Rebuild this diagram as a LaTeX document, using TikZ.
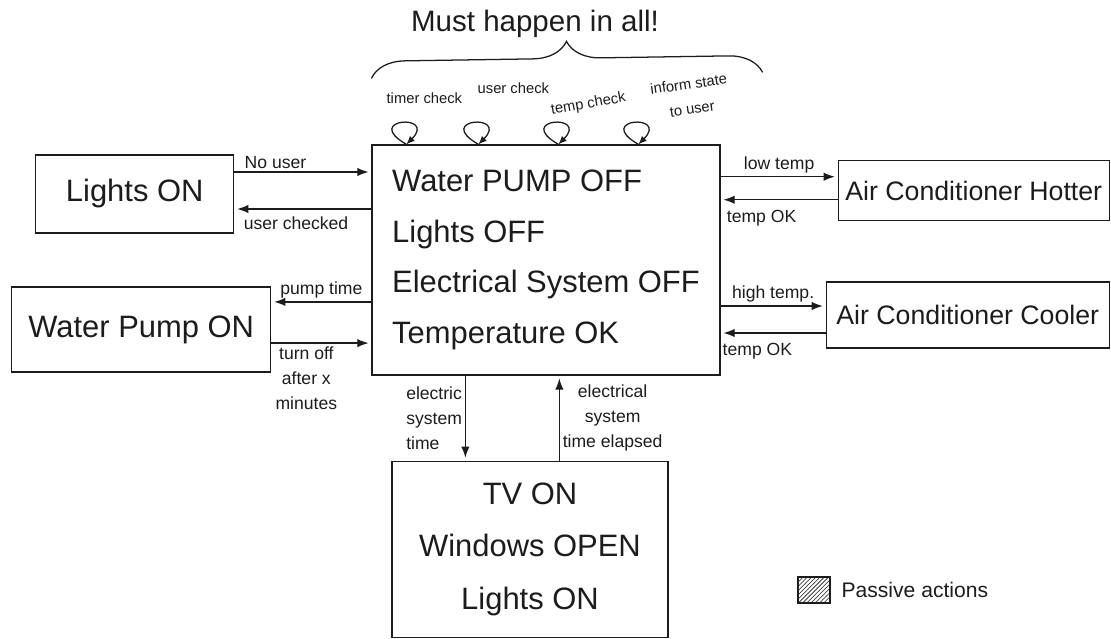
\documentclass[tikz,border=0pt]{standalone}
\usepackage{fontspec}
\setmainfont{Liberation Sans}
\definecolor{sketchInk}{HTML}{1C1C1C}
\usetikzlibrary{arrows.meta, positioning, decorations.pathreplacing, patterns}

\begin{document}
\begin{tikzpicture}[
    node distance=1cm and 1cm,
    state/.style={
      draw=sketchInk,
      text=sketchInk,
      line width=0.9pt,
      align=center,
      font=\fontsize{22}{36}\selectfont,
      inner sep=4pt,
    },
    acbox/.style={state, font=\fontsize{19}{23}\selectfont},
    arr/.style={-{Latex[length=8pt, width=6pt]}, sketchInk, line width=0.9pt, shorten >=2pt},
    selfarr/.style={-{Latex[length=6pt, width=5pt]}, sketchInk, line width=0.9pt},
    lbl/.style={font=\fontsize{12.5}{18}\selectfont, text=sketchInk, align=center, inner sep=2pt},
    chk/.style={lbl, font=\fontsize{10.5}{15}\selectfont},
  ]
    \useasboundingbox (0,0) rectangle (27.775,15.95);

    % idle state
    \node[state, align=left, minimum width=8.7cm, minimum height=5.75cm] (main) at (13.65,9.45)
      {Water PUMP OFF\\Lights OFF\\Electrical System OFF\\Temperature OK};

    % lights
    \node[state, minimum width=4.95cm, minimum height=1.95cm,
          below left=0.25cm and 3.425cm of main.north west] (lights) {Lights ON};

    % water pump
    \node[state, minimum width=6.475cm, minimum height=2.125cm,
          above left=0.075cm and 2.5cm of main.south west] (pump) {Water Pump ON};

    % air conditioner
    \node[acbox, minimum width=7.075cm, minimum height=1.65cm,
          above right=0.675cm and 2.625cm of main.south east] (cooler) {Air Conditioner Cooler};
    \node[acbox, minimum width=6.775cm, minimum height=1.5cm,
          above right=1.5cm and 0.3cm of cooler.north west] (hotter) {Air Conditioner Hotter};

    % electrical system
    \node[state, minimum width=6.9cm, minimum height=4.4cm, font=\fontsize{22}{37.5}\selectfont,
          below right=2.125cm and 0.5cm of main.south west] (tv) {TV ON\\Windows OPEN\\Lights ON};

    % arrows left
    \coordinate (nu) at ([yshift=0.55cm]lights.east);
    \coordinate (uc) at ([yshift=-0.375cm]lights.east);
    \draw[arr] (nu) -- (nu -| main.west) node[lbl, pos=0.3, above] (nulbl) {No user};
    \draw[arr] (uc -| main.west) -- (uc) node[lbl, pos=0.55, below=3pt] (uclbl) {user checked};

    \coordinate (pt) at ([yshift=0.69cm]pump.east);
    \coordinate (to) at ([yshift=-0.34cm]pump.east);
    \draw[arr] (pt -| main.west) -- (pt) node[lbl, midway, above] (ptlbl) {pump time};
    \draw[arr] (to) -- (to -| main.west) node[lbl, pos=0.35, below] (tolbl) {turn off\\after x\\minutes};

    % arrows right
    \coordinate (lt) at ([yshift=0.35cm]hotter.west);
    \coordinate (ok1) at ([yshift=-0.225cm]hotter.west);
    \draw[arr] (lt -| main.east) -- (lt) node[lbl, midway, above] (ltlbl) {low temp};
    \draw[arr] (ok1) -- (ok1 -| main.east) node[lbl, pos=0.65, below=5pt] (ok1lbl) {temp OK};

    \coordinate (ht) at ([yshift=0.225cm]cooler.west);
    \coordinate (ok2) at ([yshift=-0.45cm]cooler.west);
    \draw[arr] (ht -| main.east) -- (ht) node[lbl, midway, above] (htlbl) {high temp.};
    \draw[arr] (ok2) -- (ok2 -| main.east) node[lbl, pos=0.65, below=5pt] (ok2lbl) {temp OK};

    % arrows down
    \coordinate (es) at ([xshift=2.35cm]main.south west);
    \coordinate (el) at ([xshift=4.7cm]main.south west);
    \draw[arr] (es) -- (es |- tv.north) node[lbl, midway, left, align=left] (eslbl) {electric\\system\\time};
    \draw[arr] (el |- tv.north) -- (el) node[lbl, midway, right] (ellbl) {electrical\\system\\time elapsed};

    % self checks
    \coordinate (c1) at ([xshift=0.875cm]main.north west);
    \coordinate (c2) at ([xshift=2.675cm]main.north west);
    \coordinate (c3) at ([xshift=4.675cm]main.north west);
    \coordinate (c4) at ([xshift=6.675cm]main.north west);
    \draw[selfarr] (c1) .. controls +(150:1.3) and +(45:1.1) .. (c1);
    \draw[selfarr] (c2) .. controls +(150:1.3) and +(45:1.1) .. (c2);
    \draw[selfarr] (c3) .. controls +(150:1.3) and +(45:1.1) .. (c3);
    \draw[selfarr] (c4) .. controls +(150:1.3) and +(45:1.1) .. (c4);
    \node[chk] (c1lbl) at ([shift={(0.45,1.15)}]c1) {timer check};
    \node[chk] (c2lbl) at ([shift={(0.875,1.4)}]c2) {user check};
    \node[chk, rotate=10] (c3lbl) at ([shift={(0.75,1.0)}]c3) {temp check};
    \node[chk, rotate=8, font=\fontsize{10.5}{18}\selectfont] (c4lbl) at ([shift={(1.3,1.2)}]c4) {inform state\\to user};

    % brace
    \draw[sketchInk, line width=0.9pt, decorate, decoration={brace, amplitude=0.85cm}]
      ([yshift=1.65cm]main.north west) -- ([shift={(1.05cm,1.8cm)}]main.north east)
      node[midway, above=0.8cm, xshift=-0.8cm, font=\fontsize{21}{25}\selectfont, text=sketchInk] (must) {Must happen in all!};

    % legend
    \node[draw=sketchInk, line width=0.9pt, pattern=north east lines, pattern color=sketchInk,
          minimum width=0.8cm, minimum height=0.65cm, inner sep=0pt] (passive) at (20.35,1.2) {};
    \node[right=0.15cm of passive, font=\fontsize{15}{18}\selectfont, text=sketchInk] (passivelbl) {Passive actions};
  \end{tikzpicture}
\end{document}
